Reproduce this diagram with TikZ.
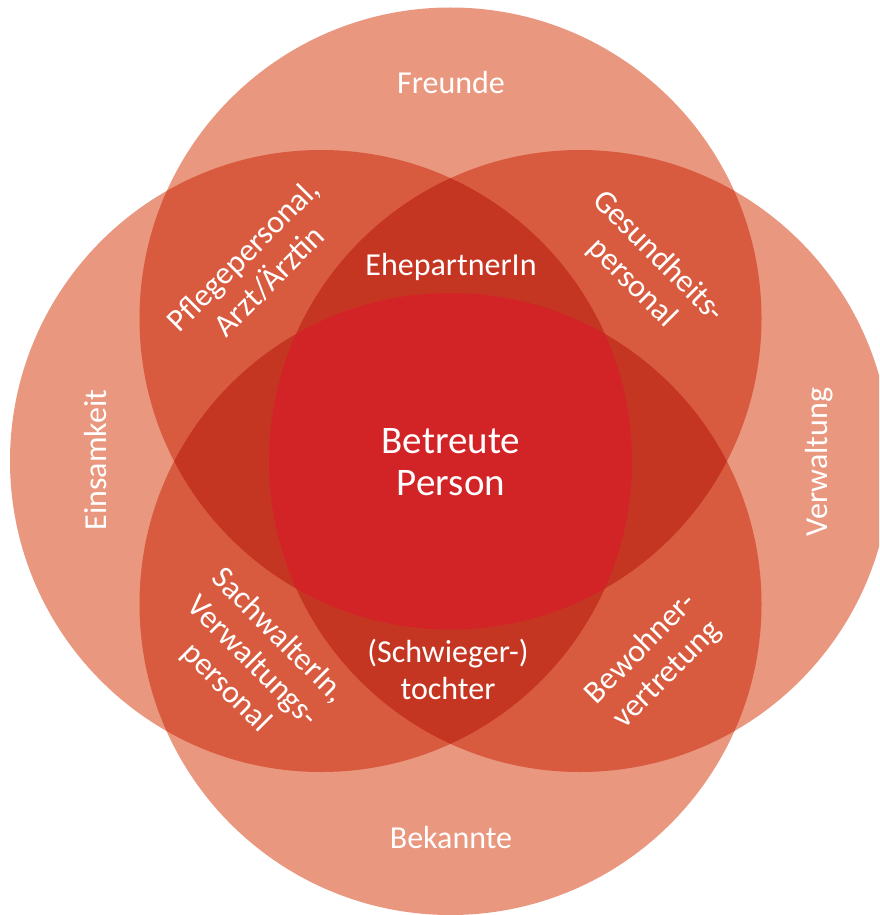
\documentclass[tikz,border=0pt]{standalone}
\usepackage{fontspec}
\setmainfont{Carlito}
\definecolor{cone}{HTML}{E9977E}
\definecolor{ctwo}{HTML}{D95B3F}
\definecolor{cthree}{HTML}{C53622}
\definecolor{cfour}{HTML}{D22426}
\begin{document}
\begin{tikzpicture}[x=1pt,y=-1pt,
  lbl/.style={text=white, font=\fontsize{32}{37}\selectfont, align=center, inner sep=0pt},
  big/.style={lbl, font=\fontsize{39}{42}\selectfont},
  rr/.style={radius=311pt}]
\clip (0,0) rectangle (879,915);
\fill[white] (0,0) rectangle (879,915);
\coordinate (T) at (450.5,318.5);
\coordinate (B) at (450.5,604);
\coordinate (L) at (321,461);
\coordinate (R) at (580,461);
% single circles
\foreach \c in {T,B,L,R} \fill[cone] (\c) circle[rr];
% pairs
\foreach \a/\b in {T/L,T/R,B/L,B/R}{
  \begin{scope}
    \clip (\a) circle[rr];
    \fill[ctwo] (\b) circle[rr];
  \end{scope}
}
% triples
\foreach \a/\b/\c in {T/L/R,B/L/R,L/T/B,R/T/B}{
  \begin{scope}
    \clip (\a) circle[rr];
    \clip (\b) circle[rr];
    \fill[cthree] (\c) circle[rr];
  \end{scope}
}
% all four
\begin{scope}
  \clip (T) circle[rr];
  \clip (B) circle[rr];
  \clip (L) circle[rr];
  \fill[cfour] (R) circle[rr];
\end{scope}
% labels
\node[lbl, anchor=base] (freunde) at (451,94) {Freunde};
\node[lbl, anchor=base] (ehe) at (451,275) {EhepartnerIn};
\node[lbl, anchor=base] (bek) at (451,848) {Bekannte};
\node[lbl, anchor=base, rotate=90] (eins) at (106,460) {Einsamkeit};
\node[lbl, anchor=base, rotate=90] (verw) at (827,462) {Verwaltung};
\node[big] (person) at (451,462.5) {Betreute\\Person};
\node[lbl] (schw) at (448,669) {(Schwieger-)\\tochter};
\node[lbl, rotate=45] (pflege) at (256,268) {Pflegepersonal,\\Arzt/Ärztin};
\node[lbl, rotate=-45] (gesund) at (645,270) {Gesundheits-\\personal};
\node[lbl, rotate=-45] (sach) at (252,662) {SachwalterIn,\\Verwaltungs-\\personal};
\node[lbl, rotate=45] (bew) at (654,662) {Bewohner-\\vertretung};
\end{tikzpicture}
\end{document}
